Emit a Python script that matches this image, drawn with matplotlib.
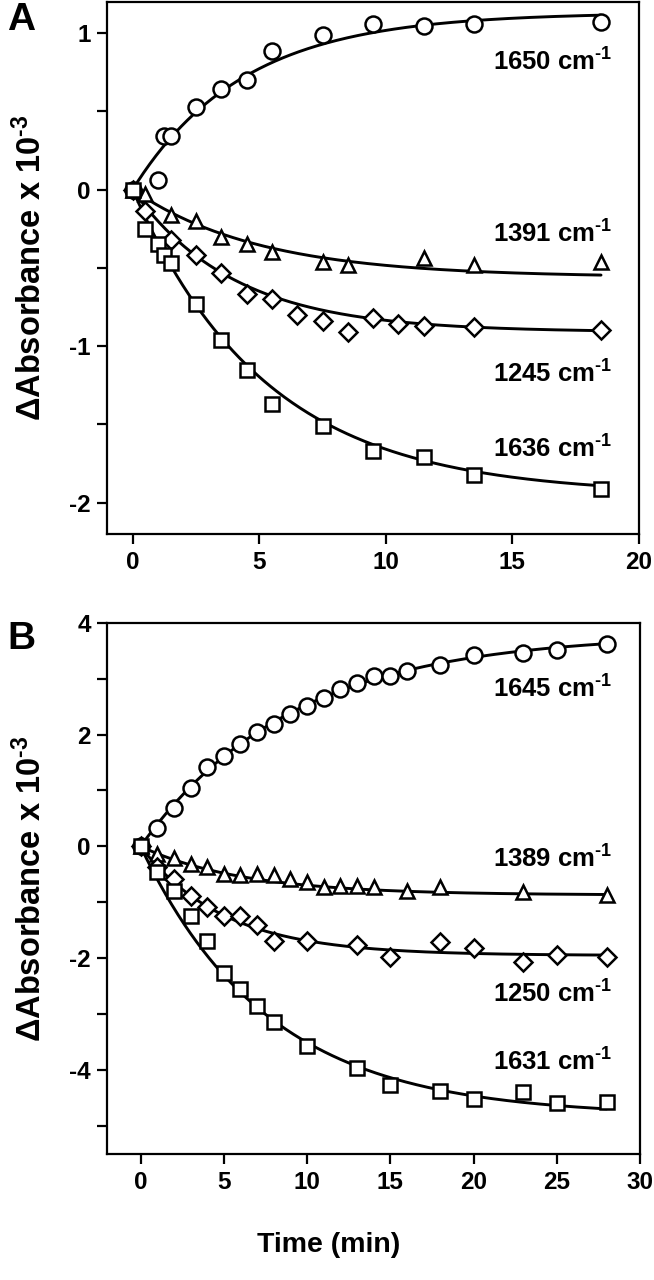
import numpy as np
import matplotlib
matplotlib.use("Agg")
import matplotlib.pyplot as plt
from matplotlib.ticker import MultipleLocator

plt.rcParams['font.family'] = ['Liberation Sans', 'DejaVu Sans']
plt.rcParams['font.weight'] = 'bold'
plt.rcParams['axes.unicode_minus'] = False
plt.rcParams['mathtext.fontset'] = 'custom'
plt.rcParams['mathtext.rm'] = 'Liberation Sans:bold'
plt.rcParams['mathtext.bf'] = 'Liberation Sans:bold'
plt.rcParams['mathtext.it'] = 'Liberation Sans:bold'

# ---------------- Panel A data ----------------
a1650_t = [0, 1.0, 1.25, 1.5, 2.5, 3.5, 4.5, 5.5, 7.5, 9.5, 11.5, 13.5, 18.5]
a1650_y = [0, 0.06, 0.34, 0.34, 0.53, 0.64, 0.70, 0.885, 0.985, 1.06, 1.045, 1.06, 1.07]

a1391_t = [0, 0.5, 1.5, 2.5, 3.5, 4.5, 5.5, 7.5, 8.5, 11.5, 13.5, 18.5]
a1391_y = [0, -0.03, -0.16, -0.20, -0.30, -0.35, -0.40, -0.46, -0.48, -0.44, -0.48, -0.46]

a1245_t = [0, 0.5, 1.5, 2.5, 3.5, 4.5, 5.5, 6.5, 7.5, 8.5, 9.5, 10.5, 11.5, 13.5, 18.5]
a1245_y = [0, -0.14, -0.32, -0.42, -0.53, -0.67, -0.70, -0.80, -0.84, -0.91, -0.82, -0.86, -0.87, -0.88, -0.90]

a1636_t = [0, 0.5, 1.0, 1.25, 1.5, 2.5, 3.5, 4.5, 5.5, 7.5, 9.5, 11.5, 13.5, 18.5]
a1636_y = [0, -0.25, -0.35, -0.42, -0.47, -0.73, -0.96, -1.15, -1.37, -1.51, -1.67, -1.71, -1.82, -1.91]

# fitted single-exponential curves: amplitude, rate (1/min), end time
a_fits = {
    '1650': (1.13, 0.23, 18.5),
    '1391': (-0.56, 0.20, 18.5),
    '1245': (-0.91, 0.25, 18.5),
    '1636': (-1.95, 0.19, 18.5),
}
a_labels = ['1650', '1391', '1245', '1636']
a_label_y = [0.76, -0.34, -1.23, -1.715]

# ---------------- Panel B data ----------------
b1645_t = [0, 1, 2, 3, 4, 5, 6, 7, 8, 9, 10, 11, 12, 13, 14, 15, 16, 18, 20, 23, 25, 28]
b1645_y = [0, 0.33, 0.68, 1.05, 1.42, 1.61, 1.83, 2.05, 2.19, 2.36, 2.51, 2.66, 2.81, 2.93,
           3.04, 3.04, 3.14, 3.24, 3.42, 3.45, 3.52, 3.62]

b1389_t = [0, 1, 2, 3, 4, 5, 6, 7, 8, 9, 10, 11, 12, 13, 14, 16, 18, 23, 28]
b1389_y = [0, -0.14, -0.21, -0.31, -0.37, -0.49, -0.52, -0.49, -0.52, -0.58, -0.64, -0.72,
           -0.70, -0.70, -0.73, -0.79, -0.73, -0.82, -0.865]

b1250_t = [0, 1, 2, 3, 4, 5, 6, 7, 8, 10, 13, 15, 18, 20, 23, 25, 28]
b1250_y = [0, -0.37, -0.58, -0.88, -1.08, -1.25, -1.25, -1.40, -1.69, -1.70, -1.77, -1.97,
           -1.71, -1.82, -2.06, -1.94, -1.98]

b1631_t = [0, 1, 2, 3, 4, 5, 6, 7, 8, 10, 13, 15, 18, 20, 23, 25, 28]
b1631_y = [0, -0.45, -0.79, -1.25, -1.70, -2.26, -2.55, -2.86, -3.14, -3.57, -3.96, -4.26,
           -4.38, -4.51, -4.40, -4.58, -4.57]

b_fits = {
    '1645': (3.80, 0.11, 28),
    '1389': (-0.87, 0.16, 28),
    '1250': (-1.95, 0.20, 28),
    '1631': (-4.82, 0.13, 28),
}
b_labels = ['1645', '1389', '1250', '1631']
b_label_y = [2.66, -0.373, -2.80, -4.01]

markers = ['o', '^', 'D', 's']
msizes = [11.5, 10.5, 9, 10]

HY = '\u2010'  # hyphen used in the superscripts

W, H = 654, 1280
fig = plt.figure(figsize=(W / 100, H / 100), dpi=100)
axA = fig.add_axes([107.3 / W, 1 - 534 / H, (639 - 107.3) / W, (534 - 1.7) / H])
axB = fig.add_axes([107.3 / W, 1 - 1154 / H, (640 - 107.3) / W, (1154 - 622.7) / H])


def draw(ax, series, fits, labels, label_y, label_x):
    for (t, y), lab, m, ms in zip(series, labels, markers, msizes):
        A, k, tend = fits[lab]
        tt = np.linspace(0, tend, 300)
        ax.plot(tt, A * (1 - np.exp(-k * tt)), color='black', lw=2.1, zorder=2,
                solid_capstyle='round')
        ax.plot(t, y, linestyle='none', marker=m, ms=ms, mfc='white', mec='black',
                mew=1.8, zorder=3)
    for lab, ly in zip(labels, label_y):
        ax.text(label_x, ly, lab + ' cm$^{' + HY + '1}$', ha='right', va='baseline',
                fontsize=18.5, fontweight='bold')
    for s in ax.spines.values():
        s.set_linewidth(1.6)
    ax.tick_params(which='major', direction='out', length=7, width=1.6, labelsize=17.5, pad=5)
    ax.tick_params(which='minor', direction='out', length=7, width=1.6)
    ax.set_ylabel('\u0394Absorbance x 10$^{' + HY + '3}$', fontsize=23.5, fontweight='bold')
    ax.yaxis.set_label_coords(-0.112, 0.5)


draw(axA, [(a1650_t, a1650_y), (a1391_t, a1391_y), (a1245_t, a1245_y), (a1636_t, a1636_y)],
     a_fits, a_labels, a_label_y, 18.95)
axA.set_xlim(-1, 20)
axA.set_ylim(-2.2, 1.2)
axA.xaxis.set_major_locator(MultipleLocator(5))
axA.yaxis.set_major_locator(MultipleLocator(1))
axA.yaxis.set_minor_locator(MultipleLocator(0.5))

draw(axB, [(b1645_t, b1645_y), (b1389_t, b1389_y), (b1250_t, b1250_y), (b1631_t, b1631_y)],
     b_fits, b_labels, b_label_y, 28.35)
axB.set_xlim(-2, 30)
axB.set_ylim(-5.5, 4)
axB.xaxis.set_major_locator(MultipleLocator(5))
axB.yaxis.set_major_locator(MultipleLocator(2))
axB.yaxis.set_minor_locator(MultipleLocator(1))

for ax in (axA, axB):
    for lbl in ax.get_xticklabels() + ax.get_yticklabels():
        lbl.set_fontweight('bold')

fig.text(329 / W, 1 - 1245 / H, 'Time (min)', ha='center', va='center', fontsize=20.5,
         fontweight='bold')
fig.text(7 / W, 1 - 2 / H, 'A', ha='left', va='top', fontsize=28, fontweight='bold')
fig.text(7 / W, 1 - 621 / H, 'B', ha='left', va='top', fontsize=28, fontweight='bold')

fig.savefig('out.png', dpi=100)
